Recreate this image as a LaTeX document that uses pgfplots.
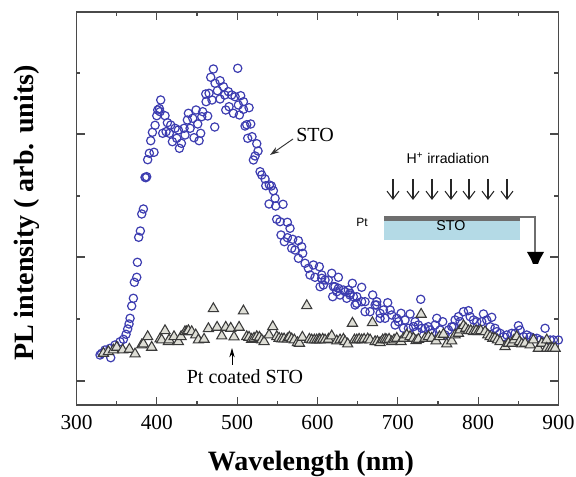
\documentclass[border=0pt]{standalone}
\usepackage{pgfplots}
\usepackage{pgfplotstable}
\usepackage{fontspec}
\setmainfont{Liberation Serif}
\newfontfamily\insetfont{Liberation Sans}
\pgfplotsset{compat=1.18}
\usetikzlibrary{arrows.meta}
\definecolor{axisgray}{HTML}{4A4A4A}
\definecolor{circblue}{HTML}{3C3CB0}
\definecolor{trigray}{HTML}{3A3A3A}
\definecolor{trifill}{HTML}{DEDED6}
\definecolor{stoblue}{HTML}{B4DAE6}
\definecolor{ptgray}{HTML}{6E6E6E}
\pgfplotstableread{
x y
329.3 50
331.4 51.7
335.5 55
341.8 56.7
342.6 47.3
348 60
354.2 63.3
358.4 65.7
361.7 70.7
363.7 76
365.4 81
366.7 86.7
368.7 99
370.8 106.7
372 122.7
375 127.7
375.8 142.7
377.4 167.7
379.5 174
381.2 191
383.3 196
386.2 227.3
385.3 227.7
387.4 228.3
388.6 245.3
390.7 251.7
396.5 252.7
392.4 264.3
394.5 272.7
397.8 279.7
399.9 289.3
401.1 295
404 293.3
404.8 305
403.2 296.3
410.2 289.3
407.3 271.7
413.1 282.3
417.3 280
411.5 273.3
419.4 263.3
415.6 271.7
422.7 276.7
424.8 266.7
428.1 256.7
430.6 261.7
426.8 275
435.1 270
433.9 276.7
438 285
441.4 276.7
439.3 291.7
444.7 286.7
448.8 295
450.9 281
457.1 293.3
455.9 288.3
463.3 289
454.6 271.7
446.3 267.3
452.6 264.3
472.1 278
460.9 311
465 311.7
461.3 303.3
468.7 305
467.1 327.7
470.4 336
472.5 321.7
475.4 314.3
478.7 324.3
482.9 318.3
478.7 306
484.5 310
485.8 295
489.9 298.3
489.1 313.3
493.2 310
495.3 291.7
497.4 308.3
502.8 290
500.7 336.7
504.4 309.3
501.5 300
507.8 295.7
514.8 297.3
507.8 303.3
509.8 279
511.9 280.3
516.9 281
513.1 266.7
518.5 268.3
524.4 261.3
526 254
522.3 249
520.2 245
528.5 233.3
530.6 230
534.7 226
535.6 219.3
540.1 220
542.6 219
545.1 214.3
547.2 206.7
539.7 201
548 199
557.1 200.7
549.2 185.7
553.4 183.3
562.5 182.7
565.8 176.7
554.6 170
562.5 167.3
569.1 165.7
558.7 163.3
576.2 164.3
567.9 156.7
580.3 158.3
572 155
581.6 151.7
576.2 146.7
584.5 141.7
588.6 136.7
594.9 140
602.3 138.3
590.7 130
596.9 127.7
605.2 126.7
617.7 131.7
626 127.7
613.5 125
607.3 120
603.2 118.3
621.8 118.3
626 116.7
618.9 108.3
632.2 115
643.4 121.7
638.4 115
655 117.7
644.7 108.3
648.8 101.7
659.2 103.3
668.7 110
665.4 93.3
673.7 100
677.9 91.7
640.5 110
634.3 113.3
605.3 130
609.4 125
619.8 118.3
624 113.3
628 110
636.4 106.7
640.6 111.7
646.8 100
648.9 108.3
655 103.3
659.2 93.3
671.7 100
673.8 103.3
687.4 102.3
677.9 86.7
684.1 86.7
690.4 95
682.1 95
692.4 90
696.6 80
698.7 86.7
704 91.7
700.7 83.3
707 76.7
715.2 91
709 85
713.2 76.7
719.4 78.3
721.5 83.3
728.5 105.7
725.6 80
723.6 73.3
729.8 76.7
733.9 76.7
738 78.3
740.2 75
748.5 86.7
746.4 80
755.9 83.3
752.6 75
742.2 71.7
763 75
758.8 70
767.1 78.3
769.2 78.3
771.3 85
775.4 88.3
781.7 93.3
787.9 94.3
777.5 83.3
790 88.3
794.1 85
798.3 83.3
806.6 91
810.7 85
816.9 87.7
804.5 83.3
814.9 78.3
821 76.7
823.2 73.3
827.3 71.7
831.5 68.3
835.6 70
841.8 71.7
846 71.7
850.1 79.3
852.2 75
856.4 68.3
860.5 70
864.7 68.3
868.8 66.7
873 66.7
883.3 76.7
877.1 65
889.6 65
893.7 65
899.9 65
}\stotable
\pgfplotstableread{
x y
333.5 51.7
339.7 53.3
345.9 55
350.1 57.7
357.5 55
365.8 55.7
372.9 51
381.2 60
383.3 61
388.6 68.3
393.6 57.7
404 66
406 65
410.2 74.3
414.4 63.3
415.3 65
421.4 68.3
426.8 63.3
430.2 68.3
435.1 73.3
437.2 73.3
439.3 74.3
443.4 73.3
448.4 70
451.7 65
458.8 65.7
464.2 76.3
470.4 96.3
475 77.7
480.8 69
485.8 77.7
492 76.7
496.1 68
502.4 77.7
507.8 94
511.9 68.3
514.8 67.7
518.1 65.7
521 66.7
524.4 68.3
527.7 67.7
530.6 65
533.5 63.3
539.7 70
544.3 78.3
549.3 68.3
552.2 66.7
555.5 66
558.4 66
562.5 66
565 67.7
567.9 66
571.2 65
575 62.3
577.5 61.7
581.2 67.7
586.6 99.3
589.9 65.7
592.8 65
596.1 65
599 65
602 65.7
603.2 65
606.5 65.7
609.4 65
613.6 65.7
617.7 69
624 64
628.1 65
632.3 65.7
634.3 63.3
637.6 61
643.5 81.7
646 65
648.9 65
651.8 65.7
655 65
658 65.7
662.5 66
665.5 65
668.4 82.3
671.7 63.3
674.6 63.3
677.9 62.3
681.2 65
684.1 65.7
686.2 65
689.1 65.7
692.4 63.3
695.3 65
698.7 66.7
704 63.3
707 66.7
711.1 70
715.2 68.3
719.4 66.7
722.7 64.3
725.6 65.7
729 90.7
733.9 66.7
738.1 68.3
742.2 66.7
747.6 64
751.8 68.3
756.8 70.7
760.9 61
767.1 64
771.3 70
775.4 71.7
777.5 75
781.7 79.3
784.6 76.7
787.9 74.3
790.8 74.3
794.1 73.3
797.4 74.3
800.3 73.3
803.2 74.3
808.6 73.3
812 70
814.9 68.3
818.2 66.7
821 66.7
824 65
827.3 63.3
833.5 58.3
837.7 61.7
841.8 61.7
844.7 65
848 68.3
851.4 63.3
854.3 61
858.4 61.7
864.7 60
868.8 65
875 56.7
879.2 61.7
885.4 65
885.4 56.7
889.5 56.7
892.5 56.7
895.8 56.7
}\pttable
\begin{document}
\begin{tikzpicture}
\useasboundingbox (0,0) rectangle (432pt,357.75pt);
\begin{axis}[
  at={(57.375pt,54pt)}, anchor=south west,
  scale only axis, width=361.5pt, height=294.75pt,
  xmin=300, xmax=900, ymin=0, ymax=393,
  xtick={300,400,...,900}, minor x tick num=1,
  ytick={24,148,271}, yticklabels={}, minor ytick={86,209,332},
  tick align=inside, major tick length=6pt, minor tick length=3pt,
  tick style={color=axisgray, line width=0.8pt},
  axis line style={color=axisgray, line width=1.1pt},
  /pgf/number format/assume math mode=true,
  xticklabel style={font=\fontsize{16}{16}\selectfont, yshift=-4.5pt},
  xlabel={\textbf{Wavelength (nm)}},
  xlabel style={font=\fontsize{21}{21}\selectfont, at={(axis description cs:0.4865,-0.15)}, anchor=center},
  ylabel={\textbf{PL intensity ( arb. units)}},
  ylabel style={font=\fontsize{21}{21}\selectfont, at={(axis description cs:-0.103,0.4885)}, anchor=center},
]
\addplot[only marks, mark=o, mark size=3.1pt, mark options={draw=circblue, line width=0.9pt, fill=none}] table[x=x,y=y] {\stotable};
\addplot[only marks, mark=triangle*, mark size=4.4pt, mark options={draw=trigray, line width=0.8pt, fill=trifill}] table[x=x,y=y] {\pttable};
\end{axis}
\begin{scope}[x=0.75pt,y=-0.75pt,shift={(0pt,357.75pt)}]
\node[font=\fontsize{15}{15}\selectfont] at (315,135) {STO};
\draw[-{Stealth[length=7pt,width=4.5pt]}, line width=0.7pt, black!80] (293,139) -- (270,155);
\node[font=\fontsize{15}{15}\selectfont] at (245,377) {Pt coated STO};
\draw[-{Stealth[length=7pt,width=4pt]}, line width=0.7pt, black] (232,365) -- (232,348);
\fill[stoblue] (384,221) rectangle (520,240);
\fill[ptgray] (384,216) rectangle (520,221);
\draw[ptgray, line width=0.9pt] (520,217) -- (535,217) -- (535,253);
\fill[black] (527,252) -- (544,252) -- (540,259) -- (538,264) -- (533,264) -- (531,259) -- cycle;
\node[font=\insetfont\fontsize{10.6}{10.6}\selectfont] at (448,158) {H\textsuperscript{+} irradiation};
\node[font=\insetfont\fontsize{10.7}{10.7}\selectfont] at (451,225.5) {STO};
\node[font=\insetfont\fontsize{9}{9}\selectfont] at (362,222) {Pt};
\foreach \ax in {393,413,432,451,469,488,507}
  \draw[-{Straight Barb[length=6pt,width=9pt]}, line width=0.8pt, black!85] (\ax,179) -- (\ax,200);
\end{scope}
\end{tikzpicture}
\end{document}
